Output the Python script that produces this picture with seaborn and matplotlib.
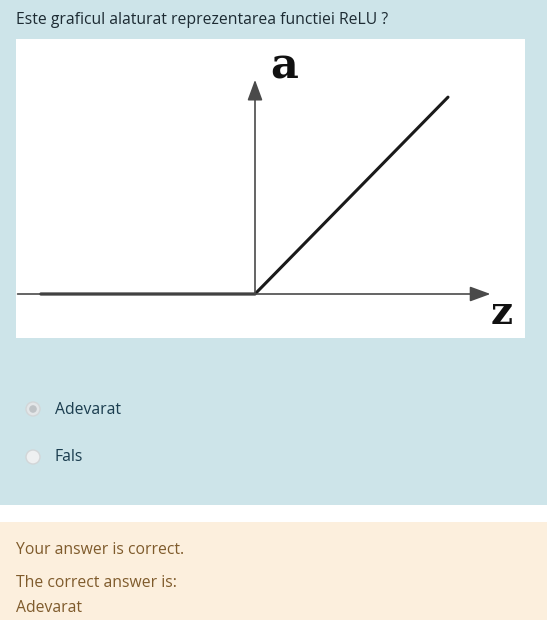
import matplotlib
matplotlib.use("Agg")
import matplotlib.pyplot as plt
from matplotlib.patches import Rectangle, Circle
import seaborn as sns
import pandas as pd

# quiz text
question = "Este graficul alaturat reprezentarea functiei ReLU ?"
options = ["Adevarat", "Fals"]
feedback = ["Your answer is correct.", "The correct answer is:", "Adevarat"]

# ReLU curve a = max(0, z)
z_vals = [-1.11, 0.0, 1.0]
a_vals = [0.0, 0.0, 1.02]

W, H = 547, 625
sns.set_theme(style="white")
plt.rcParams["font.family"] = ["Open Sans", "DejaVu Sans"]

fig = plt.figure(figsize=(W / 100, H / 100), dpi=100)

# page background drawn in pixel coords
bg = fig.add_axes([0, 0, 1, 1])
bg.set_xlim(0, W)
bg.set_ylim(H, 0)
bg.axis("off")
bg.add_patch(Rectangle((0, 0), W, 505, color="#cde4e9", lw=0))
bg.add_patch(Rectangle((0, 505), W, 17, color="#ffffff", lw=0))
bg.add_patch(Rectangle((0, 522), W, 98, color="#fcefdd", lw=0))
bg.add_patch(Rectangle((0, 620), W, 5, color="#ffffff", lw=0))

fs = 11.3
bg.text(16, 20, question, fontsize=fs, color="#1d2b33", va="center", ha="left")

# radio buttons
bg.add_patch(Circle((33, 409), 7, facecolor="#e3e6e8", edgecolor="#d2d6d8", lw=1))
bg.add_patch(Circle((33, 409), 3.8, facecolor="#bfc3c6", edgecolor="none"))
bg.add_patch(Circle((33, 457), 7, facecolor="#eef0f1", edgecolor="#d2d6d8", lw=1))
bg.text(55, 410, options[0], fontsize=fs, color="#1b3d4f", va="center")
bg.text(55, 457, options[1], fontsize=fs, color="#1b3d4f", va="center")

fb_y = [550, 583, 608]
for txt, y in zip(feedback, fb_y):
    bg.text(16, y, txt, fontsize=fs, color="#7f5b2c", va="center")

# image box with the ReLU drawing
box = (16, 39, 525, 338)
ax = fig.add_axes([box[0] / W, 1 - box[3] / H, (box[2] - box[0]) / W, (box[3] - box[1]) / H])
ax.set_facecolor("white")
scale = 193.0
ox, oy = 255, 294
ax.set_xlim((box[0] - ox) / scale, (box[2] - ox) / scale)
ax.set_ylim((oy - box[3]) / scale, (oy - box[1]) / scale)
for s in ax.spines.values():
    s.set_visible(False)
ax.set_xticks([])
ax.set_yticks([])

arrow = dict(arrowstyle="-|>,head_length=0.9,head_width=0.33", color="#4a4a4a", lw=1.2,
             shrinkA=0, shrinkB=0, mutation_scale=14)
ax.annotate("", xy=(1.22, 0), xytext=(-1.23, 0), arrowprops=arrow)
ax.annotate("", xy=(0, 1.11), xytext=(0, 0), arrowprops=arrow)

df = pd.DataFrame({"z": z_vals, "a": a_vals})
sns.lineplot(data=df, x="z", y="a", ax=ax, color="#1a1a1a", lw=2.2, sort=False)

ax.text(0.15, 1.18, "a", fontsize=31, family="DejaVu Serif", fontweight="bold",
        color="#111111", ha="center", va="center")
ax.text(1.28, -0.1, "z", fontsize=28, family="DejaVu Serif", fontweight="bold",
        color="#111111", ha="center", va="center")

fig.savefig("out.png", dpi=100)
